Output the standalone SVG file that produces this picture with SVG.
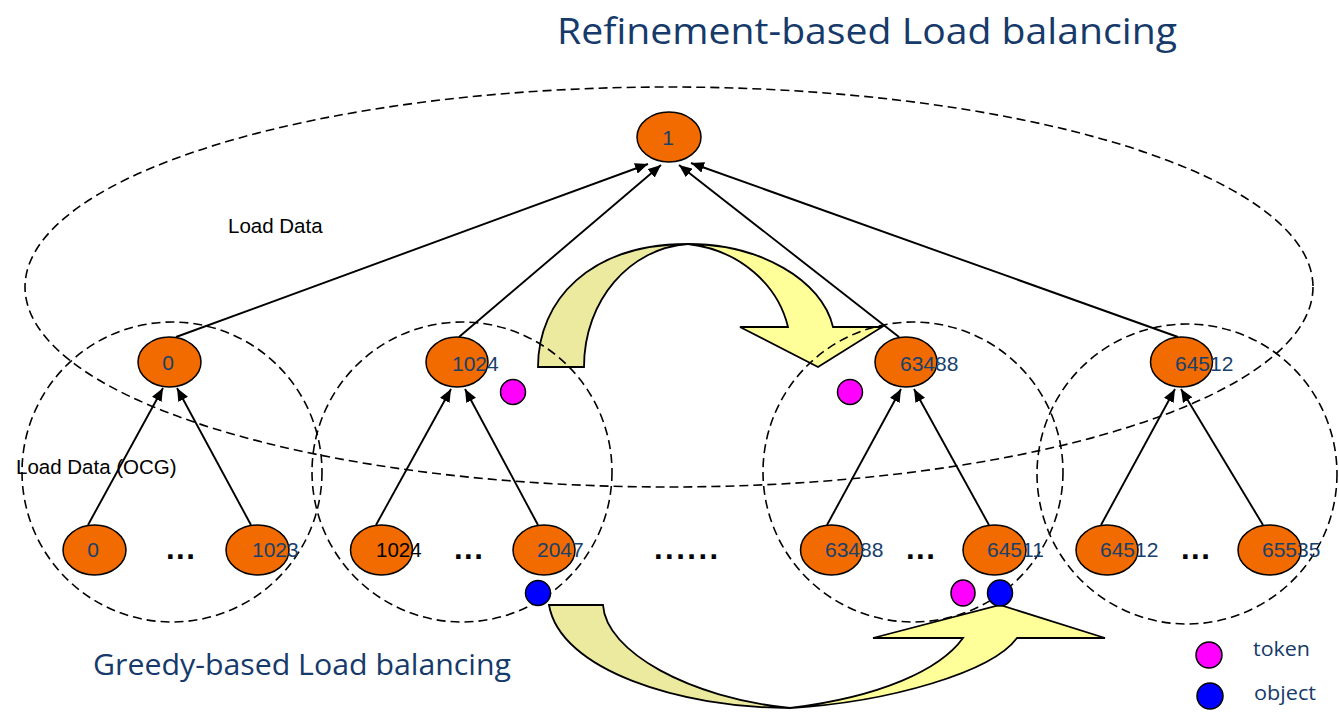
<svg xmlns="http://www.w3.org/2000/svg" width="1339" height="722" viewBox="0 0 1339 722">
<defs>
<marker id="ah" markerUnits="userSpaceOnUse" markerWidth="13" markerHeight="11" refX="13" refY="5.5" orient="auto">
<path d="M0,0 L13,5.5 L0,11 z" fill="#000"/>
</marker>
<style>
.node{fill:#F26B00;stroke:#000;stroke-width:1.5}
.dash{fill:none;stroke:#000;stroke-width:1.6;stroke-dasharray:9 5}
.edge{stroke:#000;stroke-width:1.9;fill:none;marker-end:url(#ah)}
.num{font-family:"Liberation Sans",Arial,sans-serif;font-size:21px;fill:#17406D}
.blk{font-family:"Liberation Sans",Arial,sans-serif;font-size:20.5px;fill:#000}
.ttl{font-family:"Open Sans","DejaVu Sans",sans-serif;fill:#163A6A}
.dots{font-family:"Liberation Sans",Arial,sans-serif;font-size:31px;font-weight:bold;fill:#000}
.tok{fill:#FF00FF;stroke:#000;stroke-width:1.5}
.obj{fill:#0000FF;stroke:#000;stroke-width:1.5}
.ya{fill:#FFFF99;stroke:#000;stroke-width:1.8;stroke-linejoin:miter}
.yb{fill:#ECEA9E;stroke:#000;stroke-width:1.8}
</style>
</defs>
<rect width="1339" height="722" fill="#fff"/>

<!-- yellow curved arrows -->
<g id="refine-arrow">
<path class="yb" d="M538,367 C538,300 590,244 688,244 C630,248 584,300 584,367 Z"/>
<path class="ya" d="M688,244 C760,244 822,280 833,327 L882,327 L818,367 L740,327 L788,327 C778,285 740,250 688,244 Z"/>
</g>
<g id="greedy-arrow">
<path class="yb" d="M549,605 L603,605 C606,652 690,698 790,708 C680,708 560,670 549,605 Z"/>
<path class="ya" d="M790,708 C890,702 992,672 1017,638 L1105,638 L1000,605 L873,638 L963,638 C940,670 880,697 790,708 Z"/>
</g>

<!-- dashed groupings -->
<g id="groups">
<ellipse class="dash" cx="669" cy="287" rx="644" ry="200"/>
<circle class="dash" cx="172" cy="472" r="150"/>
<circle class="dash" cx="462" cy="472" r="150"/>
<circle class="dash" cx="913" cy="472" r="150"/>
<circle class="dash" cx="1187" cy="474" r="150"/>
</g>

<!-- connectors -->
<g id="connectors">
<line class="edge" x1="176" y1="337" x2="648" y2="164"/>
<line class="edge" x1="459" y1="337" x2="661" y2="165"/>
<line class="edge" x1="899" y1="337" x2="679" y2="165"/>
<line class="edge" x1="1178" y1="337" x2="691" y2="163"/>
<line class="edge" x1="88" y1="525" x2="163" y2="388"/>
<line class="edge" x1="251" y1="525" x2="177" y2="388"/>
<line class="edge" x1="376" y1="525" x2="451" y2="389"/>
<line class="edge" x1="538" y1="525" x2="465" y2="389"/>
<line class="edge" x1="827" y1="525" x2="901" y2="389"/>
<line class="edge" x1="989" y1="525" x2="914" y2="389"/>
<line class="edge" x1="1101" y1="525" x2="1175" y2="389"/>
<line class="edge" x1="1263" y1="525" x2="1181" y2="389"/>
</g>

<!-- nodes -->
<g id="n-root"><ellipse class="node" cx="669" cy="137" rx="32" ry="25"/><text class="num" x="668" y="145" text-anchor="middle">1</text></g>
<g id="n-0"><ellipse class="node" cx="169.5" cy="362" rx="31.5" ry="25"/><text class="num" x="168" y="370" text-anchor="middle">0</text></g>
<g id="n-1024"><ellipse class="node" cx="457" cy="362" rx="31" ry="25"/><text class="num" x="452" y="371">1024</text></g>
<g id="n-63488"><ellipse class="node" cx="906" cy="362" rx="31" ry="25"/><text class="num" x="900" y="371">63488</text></g>
<g id="n-64512"><ellipse class="node" cx="1181.5" cy="362" rx="31" ry="25"/><text class="num" x="1175" y="371">64512</text></g>

<g id="n-b0"><ellipse class="node" cx="94.5" cy="550" rx="31.5" ry="25"/><text class="num" x="93" y="557" text-anchor="middle">0</text></g>
<g id="n-b1023"><ellipse class="node" cx="257.5" cy="550" rx="31.5" ry="25"/><text class="num" x="252" y="557">1023</text></g>
<g id="n-b1024"><ellipse class="node" cx="381.5" cy="550" rx="31" ry="25"/><text class="blk" x="376" y="557" font-size="21">1024</text></g>
<g id="n-b2047"><ellipse class="node" cx="544" cy="550" rx="31" ry="25"/><text class="num" x="537" y="557">2047</text></g>
<g id="n-b63488"><ellipse class="node" cx="831.5" cy="550" rx="31" ry="25"/><text class="num" x="825" y="557">63488</text></g>
<g id="n-b64511"><ellipse class="node" cx="994.5" cy="550" rx="31.5" ry="25"/><text class="num" x="987" y="557">64511</text></g>
<g id="n-b64512"><ellipse class="node" cx="1107" cy="550" rx="31" ry="25"/><text class="num" x="1100" y="557">64512</text></g>
<g id="n-b65535"><ellipse class="node" cx="1269.5" cy="550" rx="31.5" ry="25"/><text class="num" x="1262" y="557">65535</text></g>

<!-- tokens / objects -->
<g id="tokens">
<circle class="tok" cx="513" cy="392" r="12.5"/>
<circle class="tok" cx="850" cy="392" r="12.5"/>
<ellipse class="tok" cx="963" cy="593" rx="12" ry="13"/>
<ellipse class="obj" cx="1000" cy="593" rx="12.5" ry="13"/>
<circle class="obj" cx="538" cy="593" r="12.5"/>
</g>

<!-- ellipses -->
<g id="ellipses">
<text class="dots" x="166" y="559" letter-spacing="1.5">...</text>
<text class="dots" x="454" y="559" letter-spacing="1.5">...</text>
<text class="dots" x="906" y="559" letter-spacing="1.5">...</text>
<text class="dots" x="1181" y="559" letter-spacing="1.5">...</text>
<text class="dots" x="654" y="559" letter-spacing="2.5">......</text>
</g>

<!-- labels -->
<g id="labels">
<text class="blk" x="228" y="233">Load Data</text>
<text class="blk" x="16" y="474">Load Data (OCG)</text>
<text class="ttl" x="557" y="44" font-size="36" textLength="620" lengthAdjust="spacingAndGlyphs">Refinement-based Load balancing</text>
<text class="ttl" x="93" y="675" font-size="29" textLength="418" lengthAdjust="spacingAndGlyphs">Greedy-based Load balancing</text>
</g>

<!-- legend -->
<g id="legend">
<circle class="tok" cx="1209" cy="655" r="13"/>
<circle class="obj" cx="1210" cy="696" r="13"/>
<text class="ttl" x="1253" y="656" font-size="20" textLength="57" lengthAdjust="spacingAndGlyphs">token</text>
<text class="ttl" x="1254" y="700" font-size="20" textLength="62" lengthAdjust="spacingAndGlyphs">object</text>
</g>
</svg>
